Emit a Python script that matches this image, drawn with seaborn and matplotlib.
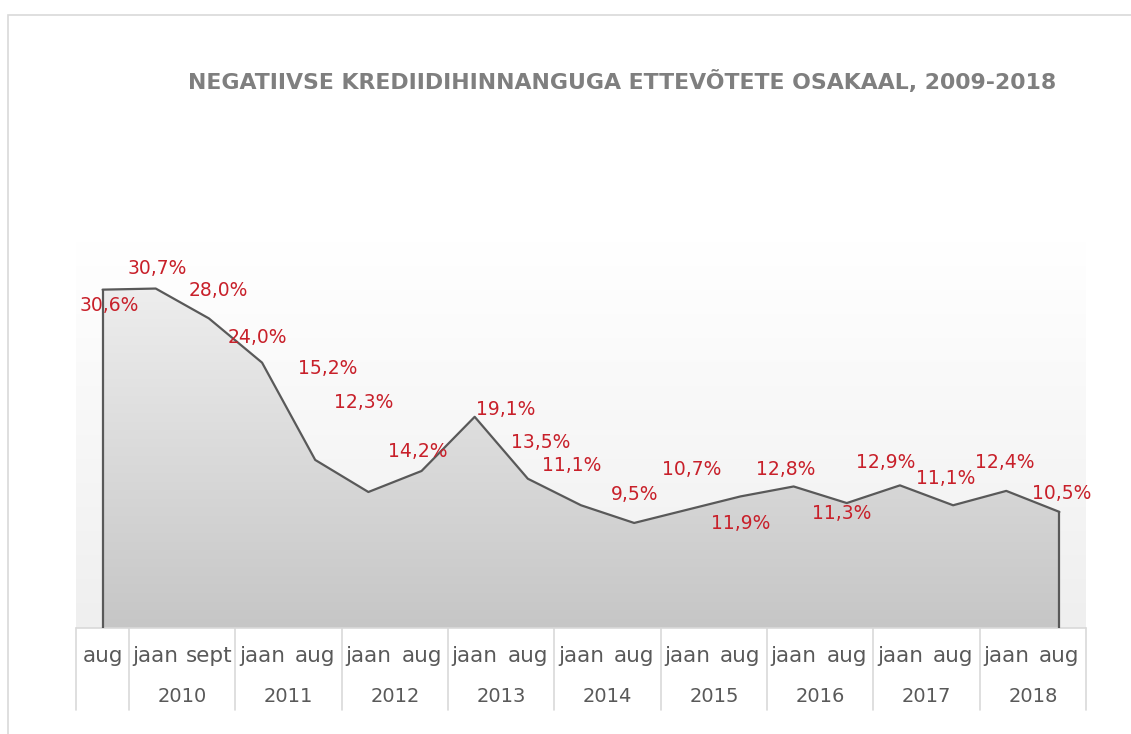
import numpy as np
import pandas as pd
import seaborn as sns
import matplotlib.pyplot as plt
from matplotlib.colors import LinearSegmentedColormap
from matplotlib.patches import Rectangle, Polygon

# data
months = ["aug",
          "jaan", "sept",
          "jaan", "aug", "jaan", "aug", "jaan", "aug", "jaan", "aug",
          "jaan", "aug", "jaan", "aug", "jaan", "aug", "jaan", "aug"]
years = ["2009", "2010", "2011", "2012", "2013", "2014", "2015", "2016", "2017", "2018"]
year_sizes = [1, 2, 2, 2, 2, 2, 2, 2, 2, 2]
share = [30.6, 30.7, 28.0, 24.0, 15.2, 12.3, 14.2, 19.1, 13.5, 11.1,
         9.5, 10.7, 11.9, 12.8, 11.3, 12.9, 11.1, 12.4, 10.5]

# label offsets from the point, in pixels (dx, dy up), as placed in the original
label_offsets = [(7, -16), (2, 20), (9, 28), (-5, 25), (12, 91), (-5, 89), (-4, 19),
                 (31, 7), (13, 36), (-9, 40), (0, 28), (4, 40), (0, -27), (-8, 17),
                 (-5, -10), (-14, 23), (-7, 27), (-2, 28), (2, 18)]

df = pd.DataFrame({"pos": np.arange(len(share)), "share": share})

sns.set_style("white")
plt.rcParams['font.family'] = ['DejaVu Sans']

W, H = 1131, 734
fig = plt.figure(figsize=(W / 100, H / 100), dpi=100)

# outer chart frame
fig.patches.append(Rectangle((8 / W, -0.1), 1.2, (H - 15) / H + 0.1, transform=fig.transFigure,
                             fill=False, edgecolor="#d9d9d9", linewidth=1.2))

left, right, top, bottom = 76, 1086, 241, 628
ax = fig.add_axes([left / W, 1 - bottom / H, (right - left) / W, (bottom - top) / H])
ax.set_xlim(-0.5, len(share) - 0.5)
ax.set_ylim(0, 35)

# plot area background gradient
bg_cmap = LinearSegmentedColormap.from_list("bg", ["#efefef", "#ffffff"])
grad = np.linspace(0, 1, 256).reshape(-1, 1)
ax.imshow(grad, cmap=bg_cmap, aspect="auto", origin="lower",
          extent=[-0.5, len(share) - 0.5, 0, 35], zorder=0)

# area fill with gradient, clipped to the data polygon
fill_cmap = LinearSegmentedColormap.from_list("fill", ["#c6c6c6", "#f3f3f3"])
im = ax.imshow(grad, cmap=fill_cmap, aspect="auto", origin="lower",
               extent=[-0.5, len(share) - 0.5, 0, 35], zorder=1)
verts = [(0, 0)] + list(zip(df["pos"], df["share"])) + [(len(share) - 1, 0)]
poly = Polygon(verts, closed=True, facecolor="none", edgecolor="none", transform=ax.transData)
ax.add_patch(poly)
im.set_clip_path(poly)

# outline (including the vertical edges of the area)
ax.plot([0, 0], [0, share[0]], color="#595959", linewidth=1.6, zorder=3)
ax.plot([len(share) - 1] * 2, [0, share[-1]], color="#595959", linewidth=1.6, zorder=3)
sns.lineplot(data=df, x="pos", y="share", color="#595959", linewidth=1.6, ax=ax, zorder=3)

for i, v in enumerate(share):
    dx, dy = label_offsets[i]
    ax.annotate(f"{v:.1f}%".replace(".", ","), (i, v),
                xytext=(dx * 0.72, dy * 0.72), textcoords="offset points",
                ha="center", va="center", color="#c8202a", fontsize=13.5, zorder=4)

ax.set_xticks([])
ax.set_yticks([])
ax.set_xlabel("")
ax.set_ylabel("")
for s in ax.spines.values():
    s.set_visible(False)

# multi-level category axis drawn as a table below the plot
ah = bottom - top
trans = ax.get_xaxis_transform()
line_kw = dict(color="#d9d9d9", linewidth=1.2, transform=trans, clip_on=False)
ax.plot([-0.5, len(share) - 0.5], [0, 0], **line_kw)
y_month = -(656 - bottom) / ah
y_year = -(697 - bottom) / ah
y_end = -(710 - bottom) / ah

for i, m in enumerate(months):
    ax.text(i, y_month, m, transform=trans, ha="center", va="center",
            color="#595959", fontsize=15.5)

start = 0
for k, (yr, n) in enumerate(zip(years, year_sizes)):
    ax.plot([start - 0.5, start - 0.5], [0, y_end], **line_kw)
    if k > 0:
        ax.text(start + (n - 1) / 2, y_year, yr, transform=trans, ha="center", va="center",
                color="#595959", fontsize=14)
    start += n
ax.plot([start - 0.5, start - 0.5], [0, y_end], **line_kw)

fig.text(622 / W, 1 - 82 / H, "NEGATIIVSE KREDIIDIHINNANGUGA ETTEVÕTETE OSAKAAL, 2009-2018",
         ha="center", va="center", color="#7f7f7f", fontsize=15.8, fontweight="bold")

fig.savefig("out.png", dpi=100)
